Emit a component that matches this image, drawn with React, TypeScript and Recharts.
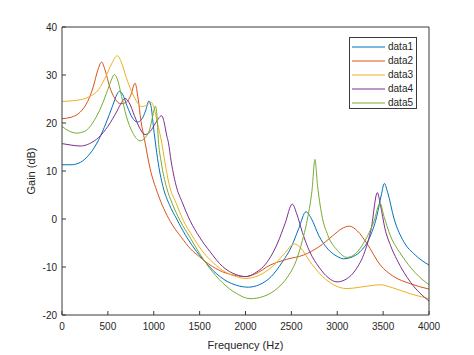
import { LineChart, Line, XAxis, YAxis, Legend } from 'recharts';

type Pt = [number, number];

const FREQ_TICKS = [0, 500, 1000, 1500, 2000, 2500, 3000, 3500, 4000];
const GAIN_TICKS = [-20, -10, 0, 10, 20, 30, 40];

const data1: Pt[] = [
  [0, 11.3], [100, 11.3], [200, 11.8], [300, 13.5], [400, 16.5], [480, 20], [550, 23.5], [600, 26],
  [625, 26.6], [660, 26], [710, 23.5], [770, 21], [820, 20.2], [870, 20.8], [910, 22.5], [948, 24.6],
  [975, 23], [995, 19.5], [1014, 16.5], [1050, 11.5], [1104, 6.5], [1170, 3], [1250, 0], [1350, -3.5],
  [1468, -6.8], [1550, -8.7], [1650, -10.8], [1800, -13], [1900, -13.8], [2030, -14.2], [2150, -13.7], [2280, -12],
  [2400, -9], [2500, -5.8], [2580, -2], [2659, 1.5], [2720, 0], [2800, -3.5], [2900, -6.3], [3000, -7.8],
  [3070, -8.3], [3150, -8], [3250, -6.8], [3350, -4], [3430, 0.5], [3480, 5], [3513, 7.4], [3550, 5.5],
  [3620, 0], [3724, -4.7], [3850, -7.5], [4000, -9.6],
];

const data2: Pt[] = [
  [0, 20.9], [100, 21.2], [200, 22.3], [280, 24.5], [340, 27.5], [390, 31], [432, 32.7], [470, 31],
  [520, 27.5], [580, 25], [640, 24], [700, 24.3], [750, 25.8], [796, 28.3], [830, 25], [860, 20.5],
  [900, 16.5], [960, 10.5], [1040, 5.5], [1180, -0.5], [1300, -3.8], [1400, -6.2],
  [1500, -7.9], [1600, -9.4], [1750, -11], [1900, -11.8], [2000, -12], [2100, -11.5], [2270, -9.6],
  [2450, -8.4], [2634, -7.5], [2800, -5.8], [2950, -3.5], [3050, -2], [3132, -1.5], [3220, -2.5],
  [3320, -5], [3470, -9.6], [3600, -11.8], [3800, -13.5], [4000, -14.6],
];

const data3: Pt[] = [
  [0, 24.5], [150, 24.7], [300, 25.5], [400, 27], [480, 29.8], [540, 32.3], [603, 34], [650, 32.5],
  [700, 29.5], [760, 26.5], [820, 24.3], [870, 23.4], [930, 23.8], [975, 24.3], [1005, 23], [1040, 20],
  [1086, 16], [1120, 12], [1177, 6.5], [1240, 3.5], [1322, -0.3], [1420, -3.5], [1522, -6.5],
  [1620, -8.6], [1750, -10.7], [1900, -12], [2000, -12.4], [2150, -11.7], [2300, -9.8], [2420, -7.3],
  [2532, -5.2], [2600, -6], [2700, -8.8], [2800, -11.2], [2950, -13.6], [3106, -14.5], [3250, -14.2],
  [3400, -13.8], [3470, -13.7], [3600, -14.3], [3800, -15.6], [4000, -16.6],
];

const data4: Pt[] = [
  [0, 15.7], [100, 15.4], [200, 15.2], [300, 15.7], [400, 17], [500, 19.3], [600, 22.5], [650, 24.3],
  [687, 25.1], [730, 24.3], [790, 21.5], [850, 18.8], [905, 17.6], [960, 18.2], [1020, 20], [1086, 21.5],
  [1115, 20], [1140, 17.5], [1159, 16], [1190, 12], [1250, 6.5], [1310, 3.5], [1395, -0.3],
  [1500, -3.8], [1613, -6.8], [1750, -9.9], [1900, -11.6], [2000, -12], [2100, -11.3], [2250, -8.6],
  [2350, -5], [2430, -1], [2510, 3.1], [2560, 1], [2620, -2.8], [2700, -6.8], [2800, -10], [2900, -12.2],
  [2997, -13.1], [3100, -12.5], [3200, -10.6], [3300, -6.8], [3370, -2], [3437, 5.5], [3470, 3],
  [3520, -2], [3580, -5.5], [3651, -8.5], [3800, -13.2], [4000, -17.1],
];

const data5: Pt[] = [
  [0, 19.3], [80, 18.3], [160, 17.9], [250, 18.3], [350, 20.5], [430, 23.5], [500, 27], [545, 29.3],
  [570, 30.1], [600, 29.3], [650, 25.5], [700, 21.5], [770, 18], [850, 16.3], [910, 17], [960, 19],
  [995, 22], [1018, 23.5], [1035, 21.5], [1050, 16.5], [1080, 12], [1141, 6.5], [1200, 3.3], [1286, -0.3],
  [1400, -4], [1500, -7.2], [1600, -10], [1750, -13.3], [1900, -15.5], [2050, -16.6], [2200, -16.1],
  [2350, -14.4], [2450, -12.3], [2550, -8.8], [2620, -4.5], [2680, 0.5], [2725, 6], [2757, 12.4],
  [2785, 7], [2830, 1], [2900, -3.5], [3000, -6.5], [3106, -8], [3200, -7.2], [3300, -4.6], [3400, -0.5],
  [3466, 3.3], [3510, 0.5], [3580, -3.5], [3700, -7.5], [3850, -11.2], [4000, -13.7],
];

// the last series is drawn on the mirrored top/right axes so that the box axes get a domain
const SERIES = [
  { name: 'data1', color: '#0072BD', points: data1, mirror: false },
  { name: 'data2', color: '#D95319', points: data2, mirror: false },
  { name: 'data3', color: '#EDB120', points: data3, mirror: false },
  { name: 'data4', color: '#7E2F8E', points: data4, mirror: false },
  { name: 'data5', color: '#77AC30', points: data5, mirror: true },
];

const FONT = '"Liberation Sans", Arial, sans-serif';
const AXIS = '#3a3a3a';
const TEXT = '#262626';

function LegendBox({ payload }: any) {
  return (
    <div
      style={{
        border: `1px solid ${AXIS}`,
        background: '#fff',
        width: 68,
        height: 72,
        boxSizing: 'border-box',
        paddingTop: 1.5,
        paddingLeft: 2,
        fontFamily: FONT,
        fontSize: 10,
        color: TEXT,
      }}
    >
      {(payload || []).map((p: any) => (
        <div key={p.value} style={{ display: 'flex', alignItems: 'center', height: 14.2 }}>
          <svg width={33} height={4}>
            <line x1={0} y1={2} x2={33} y2={2} stroke={p.color} strokeWidth={1} />
          </svg>
          <span style={{ marginLeft: 3, lineHeight: '10px' }}>{p.value}</span>
        </div>
      ))}
    </div>
  );
}

export default function App() {
  const tickStyle = { fill: TEXT, fontSize: 10, fontFamily: FONT };
  return (
    <div style={{ position: 'fixed', left: 0, top: 0, background: '#fff' }}>
      <LineChart width={474} height={355} margin={{ top: 26, right: 44, bottom: 0, left: 0 }}>
        <XAxis
          dataKey="f"
          type="number"
          domain={[0, 4000]}
          ticks={FREQ_TICKS}
          allowDataOverflow
          height={40}
          stroke={AXIS}
          tickSize={-4}
          tickMargin={12}
          tick={tickStyle}
          label={{ value: 'Frequency (Hz)', position: 'insideBottom', offset: 6, fill: TEXT, fontSize: 11, fontFamily: FONT }}
        />
        <XAxis
          xAxisId="top"
          dataKey="f"
          orientation="top"
          type="number"
          domain={[0, 4000]}
          ticks={FREQ_TICKS}
          allowDataOverflow
          height={1}
          stroke={AXIS}
          tickSize={-4}
          tick={false}
        />
        <YAxis
          type="number"
          domain={[-20, 40]}
          ticks={GAIN_TICKS}
          allowDataOverflow
          width={62}
          stroke={AXIS}
          tickSize={-4}
          tickMargin={9}
          tick={tickStyle}
          label={{ value: 'Gain (dB)', angle: -90, position: 'center', fill: TEXT, fontSize: 11, fontFamily: FONT }}
        />
        <YAxis
          yAxisId="right"
          orientation="right"
          type="number"
          domain={[-20, 40]}
          ticks={GAIN_TICKS}
          allowDataOverflow
          width={1}
          stroke={AXIS}
          tickSize={-4}
          tick={false}
        />
        <Legend
          content={<LegendBox />}
          layout="vertical"
          verticalAlign="middle"
          align="center"
          wrapperStyle={{ left: 349, top: 37, width: 68 }}
        />
        {SERIES.map((s) => (
          <Line
            key={s.name}
            name={s.name}
            xAxisId={s.mirror ? 'top' : 0}
            yAxisId={s.mirror ? 'right' : 0}
            data={s.points.map(([f, g]) => ({ f, g }))}
            dataKey="g"
            type="monotone"
            stroke={s.color}
            strokeWidth={1}
            dot={false}
            isAnimationActive={false}
          />
        ))}
      </LineChart>
    </div>
  );
}
